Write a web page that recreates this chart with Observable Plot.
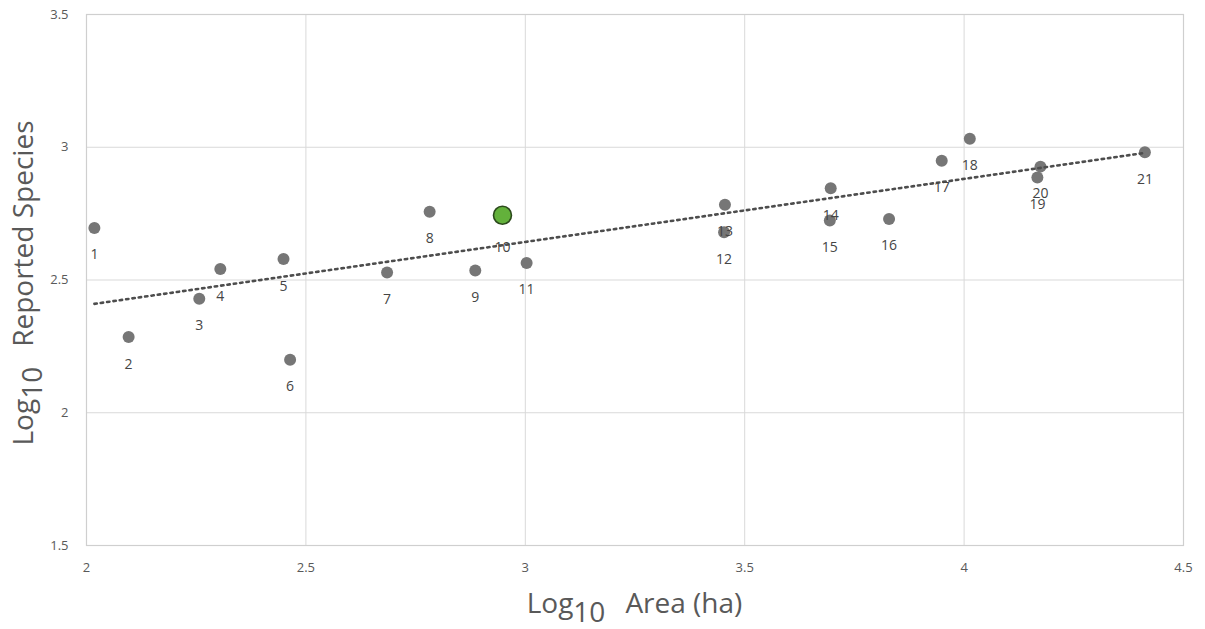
<!DOCTYPE html>
<html>
<head>
<meta charset="utf-8">
<script src="https://cdn.jsdelivr.net/npm/d3@7"></script>
<script src="https://cdn.jsdelivr.net/npm/@observablehq/plot@0.6"></script>
<style>
  html, body { margin: 0; padding: 0; background: #fff; }
  #chart { width: 1205px; height: 629px; }
</style>
</head>
<body>
<div id="chart"></div>
<script>
// Site numbers
const ids = [1, 2, 3, 4, 5, 6, 7, 8, 9, 10, 11, 12, 13, 14, 15, 16, 17, 18, 19, 20, 21];
// Log10 Area (ha)
const logArea = [2.018, 2.096, 2.257, 2.305, 2.449, 2.464, 2.685, 2.782, 2.886, 2.948, 3.003,
                 3.453, 3.455, 3.696, 3.694, 3.829, 3.949, 4.013, 4.167, 4.174, 4.412];
// Log10 Reported Species
const logSpecies = [2.696, 2.285, 2.429, 2.541, 2.579, 2.200, 2.528, 2.757, 2.536, 2.744, 2.564,
                    2.680, 2.783, 2.846, 2.724, 2.730, 2.949, 3.032, 2.886, 2.927, 2.981];
// Highlighted site
const highlightId = 10;
// Axis ticks
const xTicks = [2, 2.5, 3, 3.5, 4, 4.5];
const yTicks = [1.5, 2, 2.5, 3, 3.5];
const tickText = d => String(d);

const data = ids.map((id, i) => ({id, x: logArea[i], y: logSpecies[i]}));
const normal = data.filter(d => d.id !== highlightId);
const special = data.filter(d => d.id === highlightId);

const plot = Plot.plot({
  width: 1205,
  height: 629,
  marginLeft: 86,
  marginRight: 22,
  marginTop: 14,
  marginBottom: 84,
  style: {fontFamily: "'Open Sans', sans-serif", fontSize: "13px", color: "#595959", background: "#fff"},
  x: {domain: [2, 4.5], ticks: xTicks, tickFormat: tickText, tickSize: 0, tickPadding: 17, label: null},
  y: {domain: [1.5, 3.5], ticks: yTicks, tickFormat: tickText, tickSize: 0, tickPadding: 18, label: null},
  marks: [
    Plot.gridX(xTicks, {stroke: "#d9d9d9", strokeOpacity: 1, strokeWidth: 1}),
    Plot.gridY(yTicks, {stroke: "#d9d9d9", strokeOpacity: 1, strokeWidth: 1}),
    Plot.frame({stroke: "#cfcfcf", strokeWidth: 1.2}),
    Plot.dot(normal, {x: "x", y: "y", r: 6, fill: "#767676", stroke: "none"}),
    Plot.dot(special, {x: "x", y: "y", r: 9, fill: "#63b13b", stroke: "#2c4a1c", strokeWidth: 1.6}),
    Plot.linearRegressionY(data, {x: "x", y: "y", ci: 0, stroke: "#4d4d4d", strokeWidth: 2.6, strokeDasharray: "2.4,4"}),
    Plot.text(normal, {x: "x", y: "y", text: "id", dy: 27, fill: "#454545", fontSize: 14}),
    Plot.text(special, {x: "x", y: "y", text: "id", dy: 32, fill: "#454545", fontSize: 14})
  ]
});

document.getElementById("chart").appendChild(plot);

// Axis titles with lowered "10"
const svg = d3.select(plot);
function addTitle(g, rest) {
  const t = g.append("text")
    .attr("text-anchor", "middle")
    .attr("fill", "#595959")
    .attr("font-family", "'Open Sans', sans-serif")
    .attr("font-size", 28);
  t.append("tspan").text("Log");
  t.append("tspan").attr("dy", 9).text("10");
  t.append("tspan").attr("dy", -9).attr("dx", 20).text(rest);
}
addTitle(svg.append("g").attr("transform", "translate(634.5,613)"), "Area (ha)");
addTitle(svg.append("g").attr("transform", "translate(33,283) rotate(-90)"), "Reported Species");
</script>
</body>
</html>
